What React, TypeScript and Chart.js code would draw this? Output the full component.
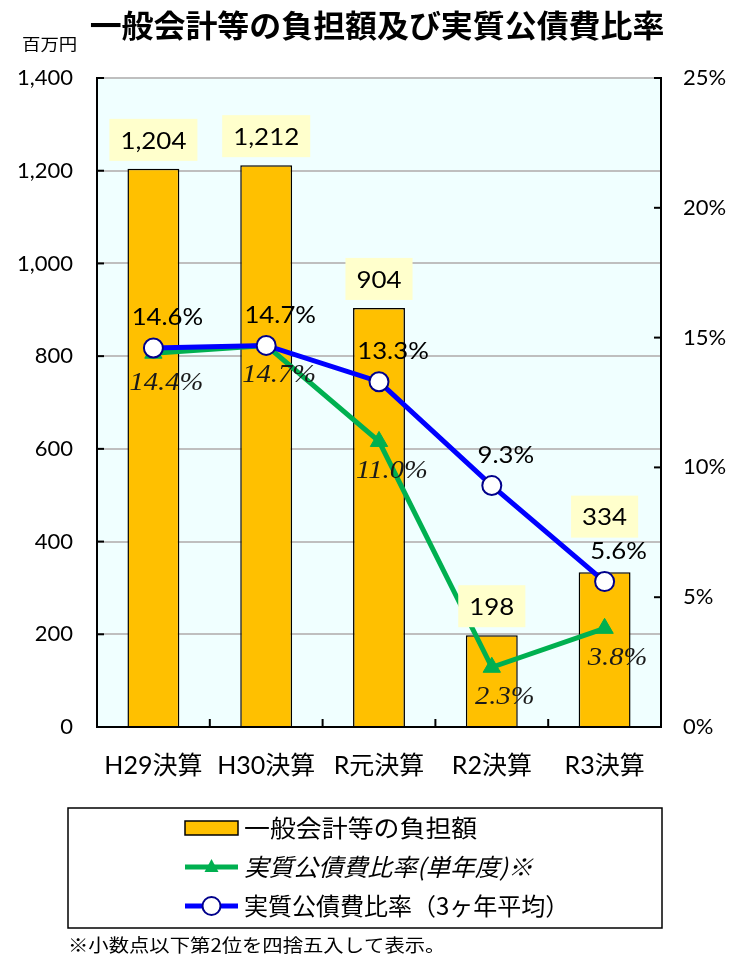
import React, { useEffect, useRef } from "react";
import { Chart, registerables } from "chart.js";

Chart.register(...registerables);

const categories = ["H29決算", "H30決算", "R元決算", "R2決算", "R3決算"];
const burden = [1204, 1212, 904, 198, 334];
const ratioSingle = [14.4, 14.7, 11.0, 2.3, 3.8];
const ratioAvg = [14.6, 14.7, 13.3, 9.3, 5.6];
const leftMax = 1400;
const leftStep = 200;
const rightMax = 25;
const rightStep = 5;

const titleText = "一般会計等の負担額及び実質公債費比率";
const unitText = "百万円";
const legendLabels = ["一般会計等の負担額", "実質公債費比率(単年度)※", "実質公債費比率（3ヶ年平均）"];
const footnote = "※小数点以下第2位を四捨五入して表示。";

const LATIN = "Lato, 'Noto Sans CJK JP', sans-serif";
const CJK = "'Noto Sans CJK JP', sans-serif";
const SERIF = "'Liberation Serif', 'DejaVu Serif', serif";
const BAR = "#FFC000";
const GREEN = "#00B050";
const BLUE = "#0000FF";
const NAVY = "#00008B";

// horizontally stretched text (reference text is slightly wide)
function stretchText(ctx: any, txt: string, x: number, y: number, sx: number) {
  ctx.save();
  ctx.translate(x, y);
  ctx.scale(sx, 1);
  ctx.fillText(txt, 0, 0);
  ctx.restore();
}

const decor = {
  id: "decor",
  beforeDraw(chart: any) {
    const { ctx, chartArea: a } = chart;
    ctx.save();
    ctx.fillStyle = "#F0FFFF";
    ctx.fillRect(a.left, a.top, a.right - a.left, a.bottom - a.top);
    ctx.restore();
  },
  afterDatasetsDraw(chart: any) {
    const { ctx } = chart;
    ctx.save();
    ctx.textAlign = "center";
    ctx.textBaseline = "middle";
    // bar labels
    const barMeta = chart.getDatasetMeta(0);
    const blueMeta = chart.getDatasetMeta(2);
    ctx.font = `24px ${LATIN}`;
    barMeta.data.forEach((el: any, i: number) => {
      const txt = burden[i].toLocaleString("en-US");
      const w = ctx.measureText(txt).width * 1.08 + 22;
      let cy = el.y - 29;
      // lift the label if it would collide with the average-ratio label
      const bl = blueMeta.data[i];
      if (bl && Math.abs(cy - (bl.y - 29)) < 44) cy = bl.y - 29 - 36;
      ctx.fillStyle = "#FFFFCC";
      ctx.fillRect(el.x - w / 2, cy - 21, w, 42);
      ctx.fillStyle = "#000";
      stretchText(ctx, txt, el.x, cy + 1, 1.08);
    });
    // green labels (below, italic serif)
    const gMeta = chart.getDatasetMeta(1);
    ctx.font = `italic 26px ${SERIF}`;
    ctx.fillStyle = "#1a1a1a";
    gMeta.data.forEach((el: any, i: number) => {
      stretchText(ctx, ratioSingle[i].toFixed(1) + "%", el.x + 13, el.y + 30, 1.1);
    });
    // blue labels (above)
    ctx.font = `23px ${LATIN}`;
    ctx.fillStyle = "#000";
    blueMeta.data.forEach((el: any, i: number) => {
      stretchText(ctx, ratioAvg[i].toFixed(1) + "%", el.x + 14, el.y - 30, 1.12);
    });
    ctx.restore();
  },
  afterDraw(chart: any) {
    const { ctx, chartArea: a, scales } = chart;
    ctx.save();
    // tick marks (inside)
    ctx.strokeStyle = "#000";
    ctx.lineWidth = 2;
    const yl = scales.y;
    for (let v = 0; v <= leftMax; v += leftStep) {
      const py = yl.getPixelForValue(v);
      ctx.beginPath();
      ctx.moveTo(a.left, py);
      ctx.lineTo(a.left + 7, py);
      ctx.stroke();
    }
    const yr = scales.y1;
    for (let v = 0; v <= rightMax; v += rightStep) {
      const py = yr.getPixelForValue(v);
      ctx.beginPath();
      ctx.moveTo(a.right, py);
      ctx.lineTo(a.right - 7, py);
      ctx.stroke();
    }
    const xs = scales.x;
    const half = (xs.getPixelForValue(1) - xs.getPixelForValue(0)) / 2;
    for (let i = 0; i <= categories.length; i++) {
      const px = xs.getPixelForValue(i) - half;
      ctx.beginPath();
      ctx.moveTo(px, a.bottom);
      ctx.lineTo(px, a.bottom - 8);
      ctx.stroke();
    }

    // title
    ctx.fillStyle = "#000";
    ctx.textBaseline = "middle";
    ctx.textAlign = "center";
    ctx.font = `bold 31px ${CJK}`;
    stretchText(ctx, titleText, 377, 25, 1.03);
    ctx.textAlign = "left";
    ctx.font = `16px ${CJK}`;
    stretchText(ctx, unitText, 22, 44, 1.15);

    // legend box
    ctx.lineWidth = 1.5;
    ctx.strokeStyle = "#000";
    ctx.strokeRect(68, 808, 594, 120);
    const sx0 = 185, sx1 = 238, mid = (sx0 + sx1) / 2;
    const rows = [828, 867, 906];
    // bar swatch
    ctx.fillStyle = BAR;
    ctx.fillRect(sx0, rows[0] - 7, sx1 - sx0, 14);
    ctx.strokeRect(sx0, rows[0] - 7, sx1 - sx0, 14);
    // green
    ctx.strokeStyle = GREEN;
    ctx.lineWidth = 5;
    ctx.beginPath();
    ctx.moveTo(sx0, rows[1]);
    ctx.lineTo(sx1, rows[1]);
    ctx.stroke();
    ctx.fillStyle = GREEN;
    ctx.beginPath();
    ctx.moveTo(mid, rows[1] - 8);
    ctx.lineTo(mid + 7, rows[1] + 5);
    ctx.lineTo(mid - 7, rows[1] + 5);
    ctx.closePath();
    ctx.fill();
    // blue
    ctx.strokeStyle = BLUE;
    ctx.beginPath();
    ctx.moveTo(sx0, rows[2]);
    ctx.lineTo(sx1, rows[2]);
    ctx.stroke();
    ctx.fillStyle = "#fff";
    ctx.strokeStyle = NAVY;
    ctx.lineWidth = 2;
    ctx.beginPath();
    ctx.arc(mid, rows[2], 9, 0, Math.PI * 2);
    ctx.fill();
    ctx.stroke();
    // legend text
    ctx.fillStyle = "#000";
    ctx.textAlign = "left";
    ctx.font = `24px ${CJK}`;
    stretchText(ctx, legendLabels[0], 244, rows[0], 1.08);
    ctx.font = `italic 24px ${CJK}`;
    stretchText(ctx, legendLabels[1], 244, rows[1], 1.03);
    ctx.font = `24px ${CJK}`;
    stretchText(ctx, legendLabels[2], 244, rows[2], 1.0);

    // footnote
    ctx.font = `18px ${CJK}`;
    stretchText(ctx, footnote, 68, 945, 1.13);
    ctx.restore();
  },
};

export default function App() {
  const ref = useRef<HTMLCanvasElement>(null);
  useEffect(() => {
    document.body.style.margin = "0";
    const chart = new Chart(ref.current as HTMLCanvasElement, {
      type: "bar",
      data: {
        labels: categories,
        datasets: [
          {
            type: "bar",
            label: legendLabels[0],
            data: burden,
            backgroundColor: BAR,
            borderColor: "#000",
            borderWidth: 1.5,
            barPercentage: 0.46,
            categoryPercentage: 1,
            yAxisID: "y",
            order: 3,
          },
          {
            type: "line",
            label: legendLabels[1],
            data: ratioSingle,
            borderColor: GREEN,
            backgroundColor: GREEN,
            borderWidth: 5,
            pointStyle: "triangle",
            pointRadius: 10,
            pointBorderWidth: 1,
            tension: 0,
            yAxisID: "y1",
            order: 2,
          },
          {
            type: "line",
            label: legendLabels[2],
            data: ratioAvg,
            borderColor: BLUE,
            backgroundColor: "#fff",
            pointBorderColor: NAVY,
            pointBackgroundColor: "#fff",
            borderWidth: 5,
            pointRadius: 9.5,
            pointBorderWidth: 2,
            tension: 0,
            yAxisID: "y1",
            order: 1,
          },
        ] as any,
      },
      options: {
        responsive: false,
        animation: false,
        devicePixelRatio: 1,
        layout: { padding: { top: 78, left: 0, right: 0, bottom: 0 } },
        plugins: { legend: { display: false }, tooltip: { enabled: false }, title: { display: false } },
        scales: {
          x: {
            grid: { display: false },
            border: { display: true, color: "#000", width: 2 },
            ticks: { font: { size: 25, family: LATIN }, color: "#000", padding: 16 },
            afterFit: (s: any) => {
              s.height = 959 - 727;
            },
          },
          y: {
            position: "left",
            min: 0,
            max: leftMax,
            grid: { color: "#BFBFBF", lineWidth: 2, drawTicks: false },
            border: { display: true, color: "#000", width: 2 },
            ticks: {
              stepSize: leftStep,
              font: { size: 22, family: LATIN },
              color: "#000",
              padding: 24,
              callback: (v: any) => Number(v).toLocaleString("en-US"),
            },
            afterFit: (s: any) => {
              s.width = 97;
            },
          },
          y1: {
            position: "right",
            min: 0,
            max: rightMax,
            grid: { display: false, drawTicks: false },
            border: { display: true, color: "#000", width: 2 },
            ticks: {
              stepSize: rightStep,
              font: { size: 22, family: LATIN },
              color: "#000",
              padding: 22,
              callback: (v: any) => v + "%",
            },
            afterFit: (s: any) => {
              s.width = 745 - 661;
            },
          },
        },
      } as any,
      plugins: [decor],
    });
    return () => chart.destroy();
  }, []);
  return (
    <div style={{ position: "absolute", left: 0, top: 0 }}>
      <canvas ref={ref} width={745} height={959} style={{ width: 745, height: 959, display: "block" }} />
    </div>
  );
}
